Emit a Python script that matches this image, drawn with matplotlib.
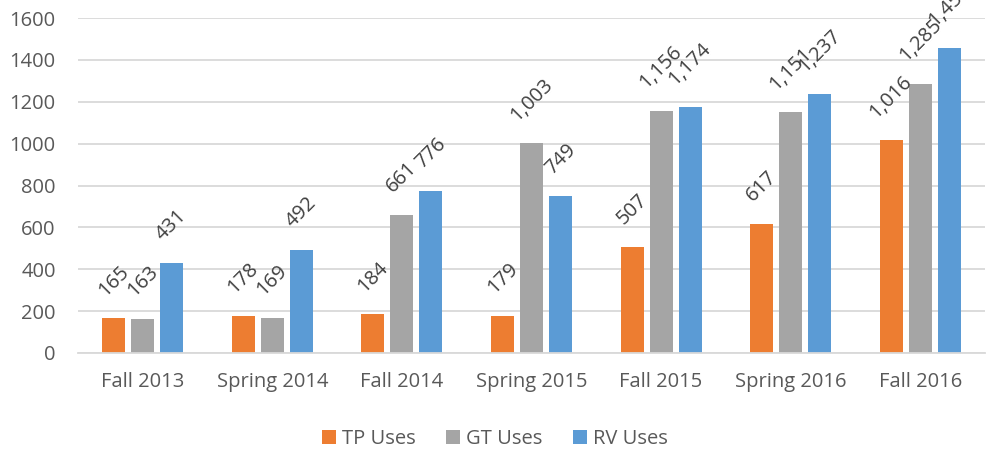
import matplotlib.pyplot as plt
import numpy as np

# datos del grafico
semestres = ['Fall 2013', 'Spring 2014', 'Fall 2014', 'Spring 2015', 'Fall 2015', 'Spring 2016', 'Fall 2016']
tp_uses = [165, 178, 184, 179, 507, 617, 1016]
gt_uses = [163, 169, 661, 1003, 1156, 1151, 1285]
rv_uses = [431, 492, 776, 749, 1174, 1237, 1455]

series = [('TP Uses', tp_uses, '#ED7D31'),
          ('GT Uses', gt_uses, '#A5A5A5'),
          ('RV Uses', rv_uses, '#5B9BD5')]

plt.rcParams['font.family'] = ['Open Sans', 'DejaVu Sans']

fig = plt.figure(figsize=(9.89, 4.53), dpi=100)
ax = fig.add_axes([78/989, 1 - 353/453, 907/989, 335/453])

x = np.arange(len(semestres))
paso = 0.224
ancho = 0.178

for i, (nombre, vals, color) in enumerate(series):
    pos = x + (i - 1) * paso
    ax.bar(pos, vals, width=ancho, color=color, label=nombre, zorder=2)
    for px, v in zip(pos, vals):
        ax.annotate(f'{v:,}', (px, v), xytext=(0, 13), textcoords='offset points',
                    ha='center', va='bottom', rotation=45, fontsize=14.5,
                    color='#404040', annotation_clip=False)

ax.set_xlim(-0.5, len(semestres) - 0.5)
ax.set_ylim(0, 1600)
ax.set_yticks(range(0, 1601, 200))
ax.set_xticks(x)
ax.set_xticklabels(semestres)
ax.tick_params(axis='both', length=0, labelsize=14.5, colors='#595959')
ax.tick_params(axis='y', pad=16)
ax.tick_params(axis='x', pad=14)
ax.grid(axis='y', color='#D9D9D9', linewidth=1.3, zorder=0)
for s in ['top', 'right', 'left']:
    ax.spines[s].set_visible(False)
ax.spines['bottom'].set_color('#D9D9D9')
ax.spines['bottom'].set_linewidth(1.3)

leg = fig.legend(loc='center', bbox_to_anchor=(495/989, 1 - 439/453), ncol=3, frameon=False,
                 fontsize=14.5, handlelength=0.7, handleheight=0.7, handletextpad=0.3,
                 columnspacing=1.5)
for t in leg.get_texts():
    t.set_color('#595959')

plt.savefig('out.png', dpi=100)
